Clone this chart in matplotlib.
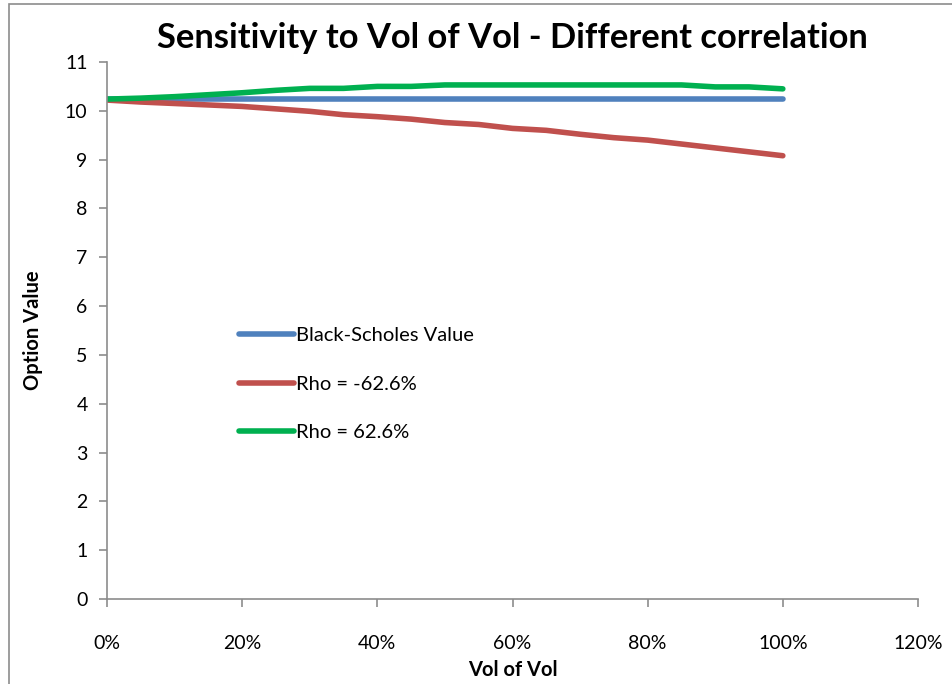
import matplotlib
matplotlib.use("Agg")
import matplotlib.pyplot as plt
from matplotlib.patches import Rectangle
from matplotlib.ticker import FuncFormatter

vol_of_vol = [0.00, 0.05, 0.10, 0.15, 0.20, 0.25, 0.30, 0.35, 0.40, 0.45, 0.50,
              0.55, 0.60, 0.65, 0.70, 0.75, 0.80, 0.85, 0.90, 0.95, 1.00]
bs_value = [10.24] * 21
rho_neg = [10.22, 10.18, 10.15, 10.12, 10.09, 10.04, 9.99, 9.92, 9.88, 9.83, 9.76,
           9.72, 9.64, 9.60, 9.52, 9.45, 9.40, 9.32, 9.24, 9.16, 9.08]
rho_pos = [10.24, 10.26, 10.29, 10.33, 10.37, 10.42, 10.46, 10.46, 10.50, 10.50, 10.53,
           10.53, 10.53, 10.53, 10.53, 10.53, 10.53, 10.53, 10.49, 10.49, 10.45]
labels = ["Black-Scholes Value", "Rho = -62.6%", "Rho = 62.6%"]
colors = ["#4F81BD", "#C0504D", "#00B050"]

plt.rcParams['font.family'] = ['Lato', 'DejaVu Sans']

fig = plt.figure(figsize=(9.53, 6.84), dpi=100)
ax = fig.add_axes([107/953, 1-599/684, (918-107)/953, (599-62)/684])

# outer chart frame
fig.patches.append(Rectangle((9/953, -0.1), 1.2, (1+0.1) - 4/684, transform=fig.transFigure,
                             fill=False, edgecolor="#8C8C8C", linewidth=1.2))

for y, lab, c in zip([bs_value, rho_neg, rho_pos], labels, colors):
    ax.plot(vol_of_vol, y, color=c, linewidth=4.0, label=lab, solid_capstyle='round')

ax.set_xlim(0, 1.2)
ax.set_ylim(0, 11)
ax.set_xticks([0, 0.2, 0.4, 0.6, 0.8, 1.0, 1.2])
ax.set_yticks(range(0, 12))
ax.xaxis.set_major_formatter(FuncFormatter(lambda v, p: f"{v*100:.0f}%"))
for s in ["top", "right"]:
    ax.spines[s].set_visible(False)
for s in ["left", "bottom"]:
    ax.spines[s].set_color("#8C8C8C")
    ax.spines[s].set_linewidth(1.2)
ax.tick_params(axis='both', colors="#8C8C8C", length=6, width=1.2, labelcolor="black", labelsize=14)
ax.tick_params(axis='x', pad=20)
ax.tick_params(axis='y', pad=8)

ax.set_title("Sensitivity to Vol of Vol - Different correlation", fontsize=24.8, fontweight='bold', pad=10)
ax.set_xlabel("Vol of Vol", fontsize=14.5, fontweight='bold', labelpad=6)
ax.set_ylabel("Option Value", fontsize=14.5, fontweight='bold', labelpad=16)

leg = ax.legend(loc='upper left', bbox_to_anchor=(0.14, 0.54), frameon=False, fontsize=14.5,
                handlelength=2.75, handletextpad=0.1, labelspacing=1.55)

fig.savefig("out.png", dpi=100)
